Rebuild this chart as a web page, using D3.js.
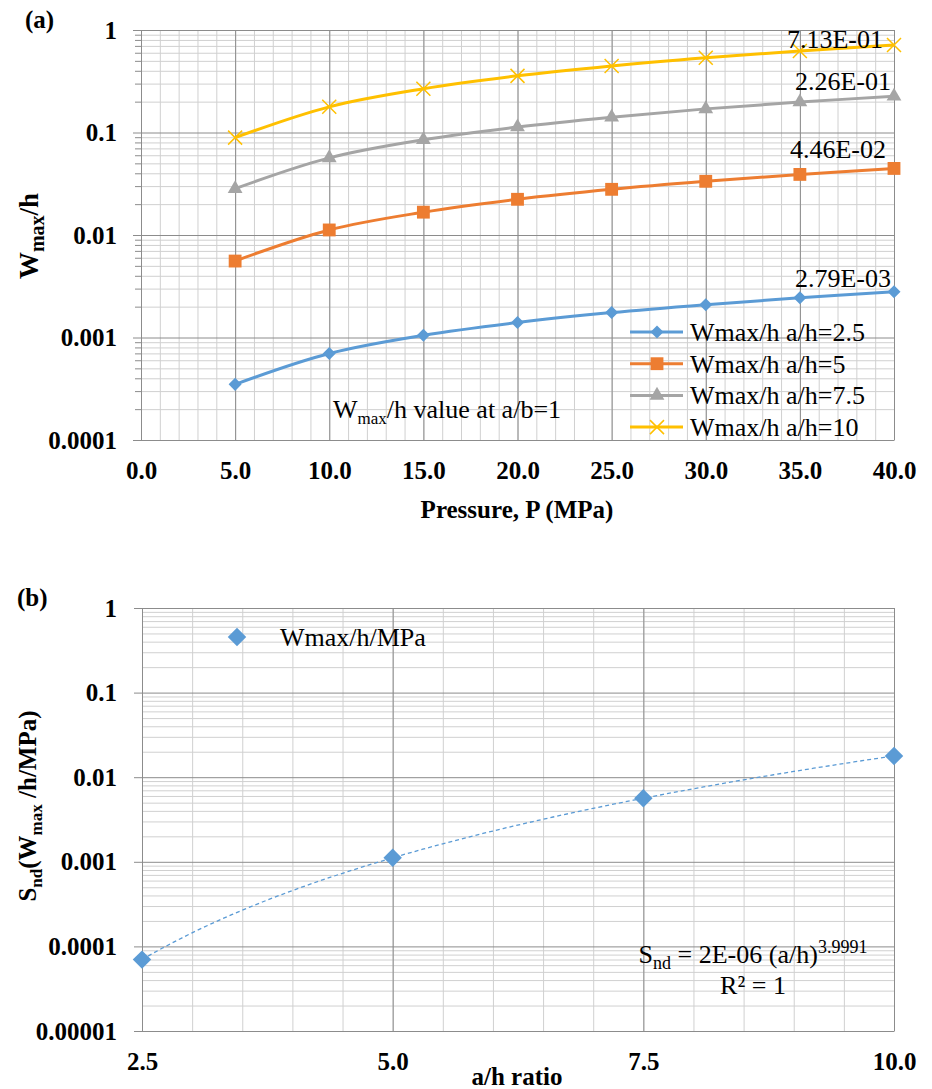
<!DOCTYPE html>
<html>
<head>
<meta charset="utf-8">
<script src="https://cdn.jsdelivr.net/npm/d3@7"></script>
<style>
  body { margin: 0; background: #fff; }
  text { font-family: "Liberation Serif", "Times New Roman", Tinos, "DejaVu Serif", serif; }
</style>
</head>
<body>
<div id="chart"></div>
<script>
// ---- data (a): Wmax/h vs pressure
const pressures = [5, 10, 15, 20, 25, 30, 35, 40];
const whRatio25 = [0.000349, 0.000698, 0.00105, 0.0014, 0.00175, 0.00209, 0.00244, 0.00279];
const whRatio5 = [0.00557, 0.0112, 0.0167, 0.0223, 0.0279, 0.0334, 0.039, 0.0446];
const whRatio75 = [0.0283, 0.0565, 0.0848, 0.113, 0.141, 0.17, 0.198, 0.226];
const whRatio10 = [0.0891, 0.178, 0.267, 0.357, 0.446, 0.535, 0.624, 0.713];
const seriesNames = ['Wmax/h a/h=2.5', 'Wmax/h a/h=5', 'Wmax/h a/h=7.5', 'Wmax/h a/h=10'];
const endLabels = ['2.79E-03', '4.46E-02', '2.26E-01', '7.13E-01'];
const yTickLabelsA = ['0.0001', '0.001', '0.01', '0.1', '1'];
const xTicksA = [0, 5, 10, 15, 20, 25, 30, 35, 40];

// ---- data (b): Snd vs a/h ratio
const ratios = [2.5, 5, 7.5, 10];
const sndValues = [0.0000698, 0.001115, 0.00565, 0.0178];
const yTickLabelsB = ['0.00001', '0.0001', '0.001', '0.01', '0.1', '1'];
const xTickLabelsB = ['2.5', '5.0', '7.5', '10.0'];

const colors = ['#5B9BD5', '#ED7D31', '#A5A5A5', '#FFC000'];
const minorCol = '#d0d0d0', majorCol = '#8c8c8c';
const serif = '"Liberation Serif", "Times New Roman", Tinos, "DejaVu Serif", serif';

const svg = d3.select('#chart').append('svg')
    .attr('width', 932)
    .attr('height', 1089)
    .attr('font-family', serif);

function isDecade(v) {
    const l = Math.log10(v);
    return Math.abs(l - Math.round(l)) < 1e-6;
}

// grid + axes for a log-y panel
function drawFrame(g, x, y, xMinor, xMajor, yMinorTicks) {
    const [top, bottom] = [y.range()[1], y.range()[0]];
    const [left, right] = x.range();
    const yAll = y.ticks();
    const yMinor = yAll.filter(d => !isDecade(d));
    const yMajor = yAll.filter(isDecade);

    const grid = g.append('g').attr('class', 'grid');
    grid.append('g').attr('transform', `translate(0,${bottom})`)
        .call(d3.axisBottom(x).tickValues(xMinor).tickSize(-(bottom - top)).tickFormat(''))
        .call(s => s.selectAll('line').attr('stroke', minorCol));
    grid.append('g').attr('transform', `translate(${left},0)`)
        .call(d3.axisLeft(y).tickValues(yMinor).tickSize(-(right - left)).tickFormat(''))
        .call(s => s.selectAll('line').attr('stroke', minorCol));
    grid.append('g').attr('transform', `translate(0,${bottom})`)
        .call(d3.axisBottom(x).tickValues(xMajor).tickSize(-(bottom - top)).tickFormat(''))
        .call(s => s.selectAll('line').attr('stroke', majorCol));
    grid.append('g').attr('transform', `translate(${left},0)`)
        .call(d3.axisLeft(y).tickValues(yMajor).tickSize(-(right - left)).tickFormat(''))
        .call(s => s.selectAll('line').attr('stroke', majorCol));
    grid.selectAll('.domain').remove();

    if (yMinorTicks) {
        g.append('g').attr('transform', `translate(${left},0)`)
            .call(d3.axisLeft(y).tickValues(yMinor).tickSize(6).tickFormat(''))
            .call(s => s.selectAll('line').attr('stroke', majorCol))
            .call(s => s.select('.domain').remove());
    }
    return yMajor;
}

function styleAxis(s) {
    s.attr('font-family', serif);
    s.selectAll('.domain').attr('stroke', majorCol);
    s.selectAll('line').attr('stroke', majorCol);
    s.selectAll('text')
        .attr('fill', '#000')
        .attr('font-size', 25)
        .attr('font-weight', 'bold');
}

// ================= panel (a)
const xA = d3.scaleLinear().domain([0, 40]).range([141, 894]);
const yA = d3.scaleLog().domain([0.0001, 1]).range([440, 30]);
const gA = svg.append('g');

const decA = drawFrame(gA, xA, yA, d3.range(0, 41, 1), xTicksA, true);

gA.append('g').attr('transform', `translate(141,0)`)
    .call(d3.axisLeft(yA).tickValues(decA).tickSize(8).tickSizeOuter(0).tickPadding(16)
        .tickFormat((d, i) => yTickLabelsA[i]))
    .call(styleAxis);
gA.append('g').attr('transform', `translate(0,440)`)
    .call(d3.axisBottom(xA).tickValues(xTicksA).tickSize(0).tickSizeOuter(0).tickFormat(d3.format('.1f')))
    .call(styleAxis)
    .call(s => s.selectAll('text').attr('y', 39).attr('dy', 0));

const seriesA = [whRatio25, whRatio5, whRatio75, whRatio10].map((vals, i) => ({
    name: seriesNames[i],
    color: colors[i],
    label: endLabels[i],
    values: vals.map((v, j) => ({p: pressures[j], v: v}))
}));

const lineA = d3.line()
    .x(d => xA(d.p))
    .y(d => yA(d.v))
    .curve(d3.curveCatmullRom.alpha(0.5));

const markerShapes = [
    d3.symbol().type(d3.symbolSquare).size(85)(),
    d3.symbol().type(d3.symbolSquare).size(165)(),
    d3.symbol().type(d3.symbolTriangle).size(95)(),
    'M-7,-7L7,7M-7,7L7,-7'
];
const markerRotate = [45, 0, 0, 0];

function drawMarker(sel, i) {
    sel.append('path')
        .attr('d', markerShapes[i])
        .attr('transform', `rotate(${markerRotate[i]})`)
        .attr('fill', i === 3 ? 'none' : colors[i])
        .attr('stroke', i === 3 ? colors[i] : 'none')
        .attr('stroke-width', 1.5);
}

seriesA.forEach((s, i) => {
    gA.append('path')
        .datum(s.values)
        .attr('d', lineA)
        .attr('fill', 'none')
        .attr('stroke', s.color)
        .attr('stroke-width', 3);
    gA.selectAll(`.mk${i}`)
        .data(s.values)
        .enter()
        .append('g')
        .attr('class', `mk${i}`)
        .attr('transform', d => `translate(${xA(d.p)},${yA(d.v)})`)
        .each(function() { drawMarker(d3.select(this), i); });
});

// end-of-series value labels
const labelDy = [-5, -10, -6, 3];
const labelDx = [-3, -8, -3, -11];
seriesA.forEach((s, i) => {
    const last = s.values[s.values.length - 1];
    gA.append('text')
        .attr('x', xA(last.p) + labelDx[i])
        .attr('y', yA(last.v) + labelDy[i])
        .attr('text-anchor', 'end')
        .attr('font-size', 26)
        .text(s.label);
});

// legend (a)
const legA = gA.append('g').attr('transform', 'translate(630,332)');
seriesA.forEach((s, i) => {
    const row = legA.append('g').attr('transform', `translate(0,${i * 31.7})`);
    row.append('line').attr('x1', 0).attr('x2', 53)
        .attr('stroke', s.color).attr('stroke-width', 3);
    const m = row.append('g').attr('transform', 'translate(27,0)');
    drawMarker(m, i);
    row.append('text').attr('x', 60).attr('y', 9)
        .attr('font-size', 26).text(s.name);
});

// annotation
const noteA = gA.append('text').attr('x', 333).attr('y', 418).attr('font-size', 26);
noteA.append('tspan').text('W');
noteA.append('tspan').attr('font-size', 17).attr('dy', 6).text('max');
noteA.append('tspan').attr('dy', -6).text('/h value at a/b=1');

// titles (a)
gA.append('text').attr('x', 25).attr('y', 28)
    .attr('font-size', 25).attr('font-weight', 'bold').text('(a)');
gA.append('text').attr('x', 517).attr('y', 518)
    .attr('text-anchor', 'middle')
    .attr('font-size', 25).attr('font-weight', 'bold').text('Pressure, P (MPa)');
const ytA = gA.append('text')
    .attr('transform', 'translate(38,236) rotate(-90)')
    .attr('text-anchor', 'middle')
    .attr('font-size', 27).attr('font-weight', 'bold');
ytA.append('tspan').text('W');
ytA.append('tspan').attr('font-size', 20).attr('dy', 6).text('max');
ytA.append('tspan').attr('dy', -6).text('/h');

// ================= panel (b)
const xB = d3.scaleLinear().domain([2.5, 10]).range([142, 894]);
const yB = d3.scaleLog().domain([0.00001, 1]).range([1031, 608]);
const gB = svg.append('g');

const decB = drawFrame(gB, xB, yB, d3.range(2.5, 10.01, 0.5), ratios, false);

gB.append('g').attr('transform', `translate(142,0)`)
    .call(d3.axisLeft(yB).tickValues(decB).tickSize(8).tickSizeOuter(0).tickPadding(17)
        .tickFormat((d, i) => yTickLabelsB[i]))
    .call(styleAxis);
gB.append('g').attr('transform', `translate(0,1031)`)
    .call(d3.axisBottom(xB).tickValues(ratios).tickSize(0).tickSizeOuter(0)
        .tickFormat((d, i) => xTickLabelsB[i]))
    .call(styleAxis)
    .call(s => s.selectAll('text').attr('y', 39).attr('dy', 0));

// power trendline fitted in log-log space
const lx = ratios.map(Math.log), ly = sndValues.map(Math.log);
const mx = d3.mean(lx), my = d3.mean(ly);
const slope = d3.sum(lx, (v, i) => (v - mx) * (ly[i] - my)) / d3.sum(lx, v => (v - mx) ** 2);
const coef = Math.exp(my - slope * mx);
const trendX = d3.range(2.5, 10.001, 0.1);
gB.append('path')
    .datum(trendX)
    .attr('d', d3.line().x(d => xB(d)).y(d => yB(coef * Math.pow(d, slope))))
    .attr('fill', 'none')
    .attr('stroke', colors[0])
    .attr('stroke-width', 1.3)
    .attr('stroke-dasharray', '4,3');

const bigDiamond = d3.symbol().type(d3.symbolSquare).size(170)();
gB.selectAll('.snd')
    .data(ratios.map((r, i) => ({r: r, v: sndValues[i]})))
    .enter()
    .append('path')
    .attr('class', 'snd')
    .attr('d', bigDiamond)
    .attr('transform', d => `translate(${xB(d.r)},${yB(d.v)}) rotate(45)`)
    .attr('fill', colors[0]);

// legend (b)
gB.append('path').attr('d', bigDiamond)
    .attr('transform', 'translate(237,637) rotate(45)')
    .attr('fill', colors[0]);
gB.append('text').attr('x', 280).attr('y', 646)
    .attr('font-size', 26).text('Wmax/h/MPa');

// equation
const eq = gB.append('text').attr('x', 753).attr('y', 963)
    .attr('text-anchor', 'middle').attr('font-size', 26);
eq.append('tspan').text('S');
eq.append('tspan').attr('font-size', 18).attr('dy', 6).text('nd');
eq.append('tspan').attr('dy', -6).text(' = 2E-06 (a/h)');
eq.append('tspan').attr('font-size', 18).attr('dy', -10).text('3.9991');
gB.append('text').attr('x', 753).attr('y', 994)
    .attr('text-anchor', 'middle').attr('font-size', 26).text('R² = 1');

// titles (b)
gB.append('text').attr('x', 17).attr('y', 606)
    .attr('font-size', 25).attr('font-weight', 'bold').text('(b)');
gB.append('text').attr('x', 517).attr('y', 1085)
    .attr('text-anchor', 'middle')
    .attr('font-size', 25).attr('font-weight', 'bold').text('a/h ratio');
const ytB = gB.append('text')
    .attr('transform', 'translate(36,806) rotate(-90)')
    .attr('text-anchor', 'middle')
    .attr('font-size', 25).attr('font-weight', 'bold');
ytB.append('tspan').text('S');
ytB.append('tspan').attr('font-size', 17).attr('dy', 6).text('nd');
ytB.append('tspan').attr('dy', -6).text('(W');
ytB.append('tspan').attr('font-size', 17).attr('dy', 6).text('max');
ytB.append('tspan').attr('dy', -6).text(' /h/MPa)');
</script>
</body>
</html>
